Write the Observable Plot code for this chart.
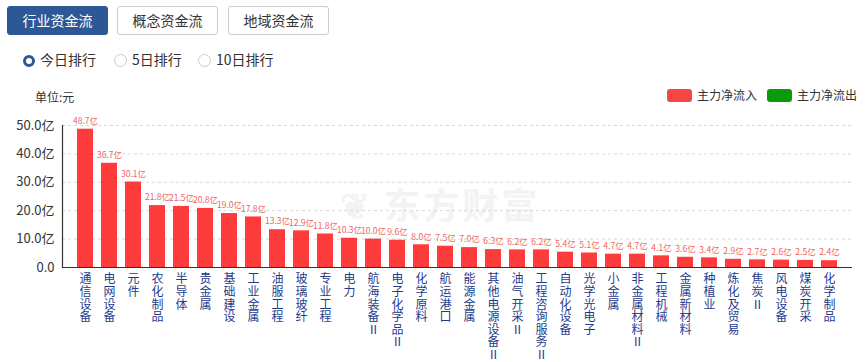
<!DOCTYPE html>
<html><head><meta charset="utf-8">
<script src="https://cdn.jsdelivr.net/npm/d3@7"></script>
<script src="https://cdn.jsdelivr.net/npm/@observablehq/plot@0.6"></script>
<style>
body{margin:0;width:865px;height:362px;position:relative;overflow:hidden;background:#fff;font-family:"Noto Sans CJK SC","Microsoft YaHei",sans-serif;color:#333}
.btn{position:absolute;top:6px;width:99px;height:27px;border:1px solid #ccc;border-radius:3px;box-sizing:content-box;text-align:center;line-height:27px;font-size:14px;color:#333;background:#fff;z-index:2}
.btn.on{background:#2d5896;border-color:#2d5896;color:#fff}
.radio{position:absolute;top:52px;font-size:14px;line-height:15px;z-index:2;white-space:nowrap}
.radio i{display:inline-block;width:11px;height:11px;border:1px solid #ccc;border-radius:50%;vertical-align:-2px;margin-right:5px;box-sizing:content-box}
.radio i.on{border:3px solid #2d5896;width:6px;height:6px;background:#fff}
.unit{position:absolute;left:35px;top:88px;font-size:12px;z-index:2}
.leg{position:absolute;top:88px;font-size:12px;line-height:14px;z-index:2;white-space:nowrap}
.leg b{display:inline-block;width:25px;height:13px;border-radius:3px;vertical-align:-2px;margin-right:5px}
.wm{position:absolute;left:340px;top:187px;font-size:36px;line-height:32px;height:32px;font-weight:bold;color:#f3f3f3;letter-spacing:3px;z-index:0;white-space:nowrap}
#chart{position:absolute;left:0;top:0;z-index:1}
</style></head>
<body>
<div class="btn on" style="left:7px">行业资金流</div>
<div class="btn" style="left:117px">概念资金流</div>
<div class="btn" style="left:228px">地域资金流</div>
<div class="radio" style="left:23px"><i class="on"></i>今日排行</div>
<div class="radio" style="left:114px"><i></i>5日排行</div>
<div class="radio" style="left:198px"><i></i>10日排行</div>
<div class="unit">单位:元</div>
<div class="leg" style="left:667px"><b style="background:#f54545"></b>主力净流入</div>
<div class="leg" style="left:767px"><b style="background:#0a9a0a"></b>主力净流出</div>
<div class="wm">❦ 东方财富</div>
<div id="chart"></div>
<script>
const categories = ["通信设备","电网设备","元件","农化制品","半导体","贵金属","基础建设","工业金属","油服工程","玻璃玻纤","专业工程","电力","航海装备Ⅱ","电子化学品Ⅱ","化学原料","航运港口","能源金属","其他电源设备Ⅱ","油气开采Ⅱ","工程咨询服务Ⅱ","自动化设备","光学光电子","小金属","非金属材料Ⅱ","工程机械","金属新材料","种植业","炼化及贸易","焦炭Ⅱ","风电设备","煤炭开采","化学制品"];
const values = [48.7,36.7,30.1,21.8,21.5,20.8,19.0,17.8,13.3,12.9,11.8,10.3,10.0,9.6,8.0,7.5,7.0,6.3,6.2,6.2,5.4,5.1,4.7,4.7,4.1,3.6,3.4,2.9,2.7,2.6,2.5,2.4];
const yTicks = [0,10,20,30,40,50];
const data = categories.map((c,i)=>({name:c,value:values[i]}));
const chart = Plot.plot({
  width:865, height:362,
  marginTop:125, marginBottom:95, marginLeft:62, marginRight:13,
  style:{fontFamily:'"Noto Sans CJK SC","Microsoft YaHei",sans-serif', background:"transparent"},
  x:{domain:categories, padding:0.35},
  y:{domain:[0,50]},
  marks:[
    Plot.gridY(yTicks.slice(1),{stroke:"#d8d8d8", strokeOpacity:1, strokeDasharray:"3,3"}),
    Plot.barY(data,{x:"name", y:"value", fill:"#fd3b3b"}),
    Plot.text(data,{x:"name", y:"value", text:d=>d.value.toFixed(1)+"亿", dy:-8, fontSize:8.5, fill:"#f06262"}),
    Plot.ruleY([0],{stroke:"#333", strokeWidth:1.2}),
    Plot.axisY(yTicks,{tickSize:0, tickPadding:8, fontSize:13, fill:"#333", tickFormat:d=>d===0?"0.0":d.toFixed(1)+"亿", label:null}),
    Plot.frame({anchor:"left", stroke:"#333", strokeWidth:1.2}),
    Plot.axisX({tickSize:0, tickPadding:7, fontSize:12, fill:"#1f3c8c", lineHeight:1.05, tickFormat:d=>[...d].join("\n"), label:null})
  ]
});
document.getElementById("chart").appendChild(chart);
</script>
</body></html>
